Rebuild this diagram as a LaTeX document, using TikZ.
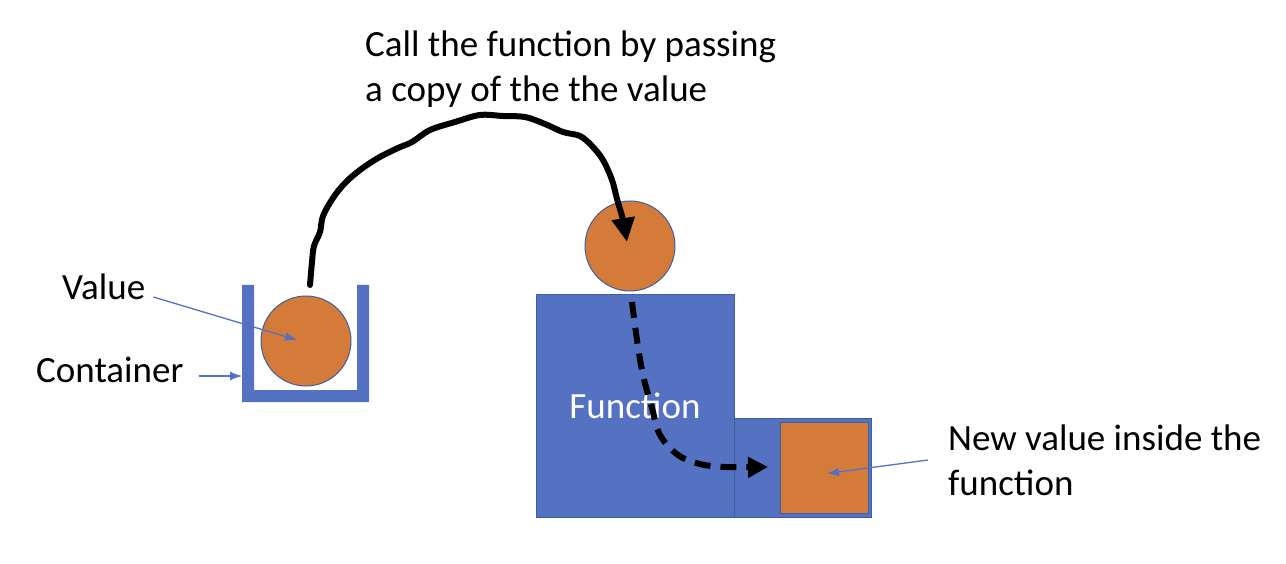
\documentclass[tikz,border=0pt]{standalone}
\usepackage{fontspec}
\setmainfont{Carlito}
\usepackage{tikz}
\usetikzlibrary{arrows.meta}

\definecolor{boxblue}{HTML}{5571C2}
\definecolor{edgeblue}{HTML}{3F5E9E}
\definecolor{valorange}{HTML}{D57B39}

\tikzset{
    label text/.style={inner sep=0pt, anchor=base west, align=left,
                       font=\fontsize{37}{45}\selectfont},
    value/.style={circle, minimum size=90pt, inner sep=0pt,
                  fill=valorange, draw=edgeblue, line width=1pt},
    funcbox/.style={rectangle, inner sep=0pt, fill=boxblue,
                    draw=edgeblue, line width=1pt},
    pointer/.style={-{Latex[length=12pt,width=9pt]}, boxblue, line width=1.3pt},
    call/.style={-{Triangle[length=24pt,width=22pt]}, line width=6pt,
                 line cap=round, line join=round},
    copy/.style={-{Triangle[length=20pt,width=20pt]}, line width=6pt,
                 dash pattern=on 16pt off 10pt}
}

\begin{document}
\begin{tikzpicture}[x=1pt, y=-1pt]

    \useasboundingbox (0,0) rectangle (1286,564);

    % container and the value in it
    \fill[boxblue] (242,285) -- (254,285) -- (254,390) -- (357,390)
                   -- (357,285) -- (369,285) -- (369,402) -- (242,402) -- cycle;
    \coordinate (cupwall) at (242,376);
    \node[value] (valA) at (306,341) {};

    % function with the copied value
    \node[funcbox, minimum width=198pt, minimum height=222pt,
          text=white, font=\fontsize{37}{45}\selectfont]
          (func) at (635,406) {Function};
    \node[funcbox, minimum width=137pt, minimum height=99pt]
          (inner) at (802.5,467.5) {};
    \node[funcbox, fill=valorange, minimum width=88pt, minimum height=91pt]
          (newval) at (824,467.5) {};
    \node[value] (valB) at (630,246) {};

    % labels (base = last line)
    \node[label text] (calllbl) at (365,102)
          {Call the function by passing\\a copy of the the value};
    \node[label text] (valuelbl) at (62,300) {Value};
    \node[label text] (cuplbl)   at (36,382) {Container};
    \node[label text] (newlbl)   at (948,495) {New value inside the\\function};

    \draw[pointer] ([xshift=8pt,yshift=3pt]valuelbl.base east) -- ([shift={(-9,-1)}]valA.center);
    \draw[pointer] ([xshift=15pt,yshift=6pt]cuplbl.base east) -- (cupwall);
    \draw[pointer] ([shift={(-20,-35)}]newlbl.base west) -- ([shift={(3,6)}]newval.center);

    % passing the copy
    \coordinate (callstart) at (310,285);
    \coordinate (calltip)   at (627,242);
    \draw[call] plot[smooth, tension=0.55] coordinates {
        (callstart) (312,262) (314,246) (320,232) (323,216) (333,198)
        (345,183) (360,170) (378,158) (398,148) (412,142) (430,130)
        (455,122) (480,115) (503,116) (525,117) (545,124) (563,132)
        (580,136) (592,146) (603,160) (612,180) (617,199) (623,220) (calltip)};

    \coordinate (copystart) at (632,302);
    \coordinate (copytip)   at (768,467);
    \draw[copy] plot[smooth, tension=0.6] coordinates {
        (copystart) (637,340) (643,375) (652,408) (660,435) (678,455)
        (700,464) (725,467) (copytip)};

\end{tikzpicture}
\end{document}
